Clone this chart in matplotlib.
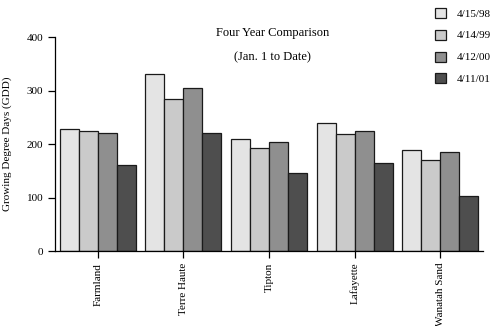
import numpy as np
import matplotlib.pyplot as plt
from matplotlib.patches import Patch

plt.rcParams['font.family'] = ['Liberation Serif', 'DejaVu Serif']

sites = ['Farmland', 'Terre Haute', 'Tipton', 'Lafayette', 'Wanatah Sand']
dates = ['4/15/98', '4/14/99', '4/12/00', '4/11/01']
gdd_98 = [228, 330, 210, 240, 188]
gdd_99 = [225, 285, 192, 218, 170]
gdd_00 = [220, 305, 204, 225, 186]
gdd_01 = [160, 220, 146, 164, 103]
colors = ['#e4e4e4', '#cacaca', '#8f8f8f', '#4e4e4e']

fig = plt.figure(figsize=(5, 3.26), dpi=100)
ax = fig.add_axes([0.11, 0.23, 0.856, 0.6565])

x = np.arange(len(sites))
w = 0.222
for i, vals in enumerate([gdd_98, gdd_99, gdd_00, gdd_01]):
    ax.bar(x + (i - 1.5) * w, vals, w, color=colors[i],
           edgecolor='#1a1a1a', linewidth=0.9, label=dates[i])

ax.set_xlim(-0.5, 4.5)
ax.set_ylim(0, 400)
ax.set_yticks([0, 100, 200, 300, 400])
ax.set_xticks(x)
ax.set_xticklabels(sites, rotation=90, fontsize=8)
ax.tick_params(axis='y', labelsize=8, length=5, width=0.9)
ax.tick_params(axis='x', length=5, width=0.9)
for s in ['top', 'right']:
    ax.spines[s].set_visible(False)
for s in ['left', 'bottom']:
    ax.spines[s].set_linewidth(0.9)
ax.set_ylabel('Growing Degree Days (GDD)', fontsize=8)
ax.yaxis.set_label_coords(-0.1, 0.5)

fig.text(0.545, 0.9, 'Four Year Comparison', ha='center', va='center', fontsize=9)
fig.text(0.545, 0.825, '(Jan. 1 to Date)', ha='center', va='center', fontsize=9)

handles = [Patch(facecolor=c, edgecolor='#1a1a1a', linewidth=0.9) for c in colors]
fig.legend(handles, dates, loc='upper left', bbox_to_anchor=(0.855, 1.0),
           frameon=False, fontsize=8, handlelength=1.0, handleheight=1.0,
           labelspacing=1.0, handletextpad=0.9, borderaxespad=0.3)

fig.savefig('out.png', dpi=100)
